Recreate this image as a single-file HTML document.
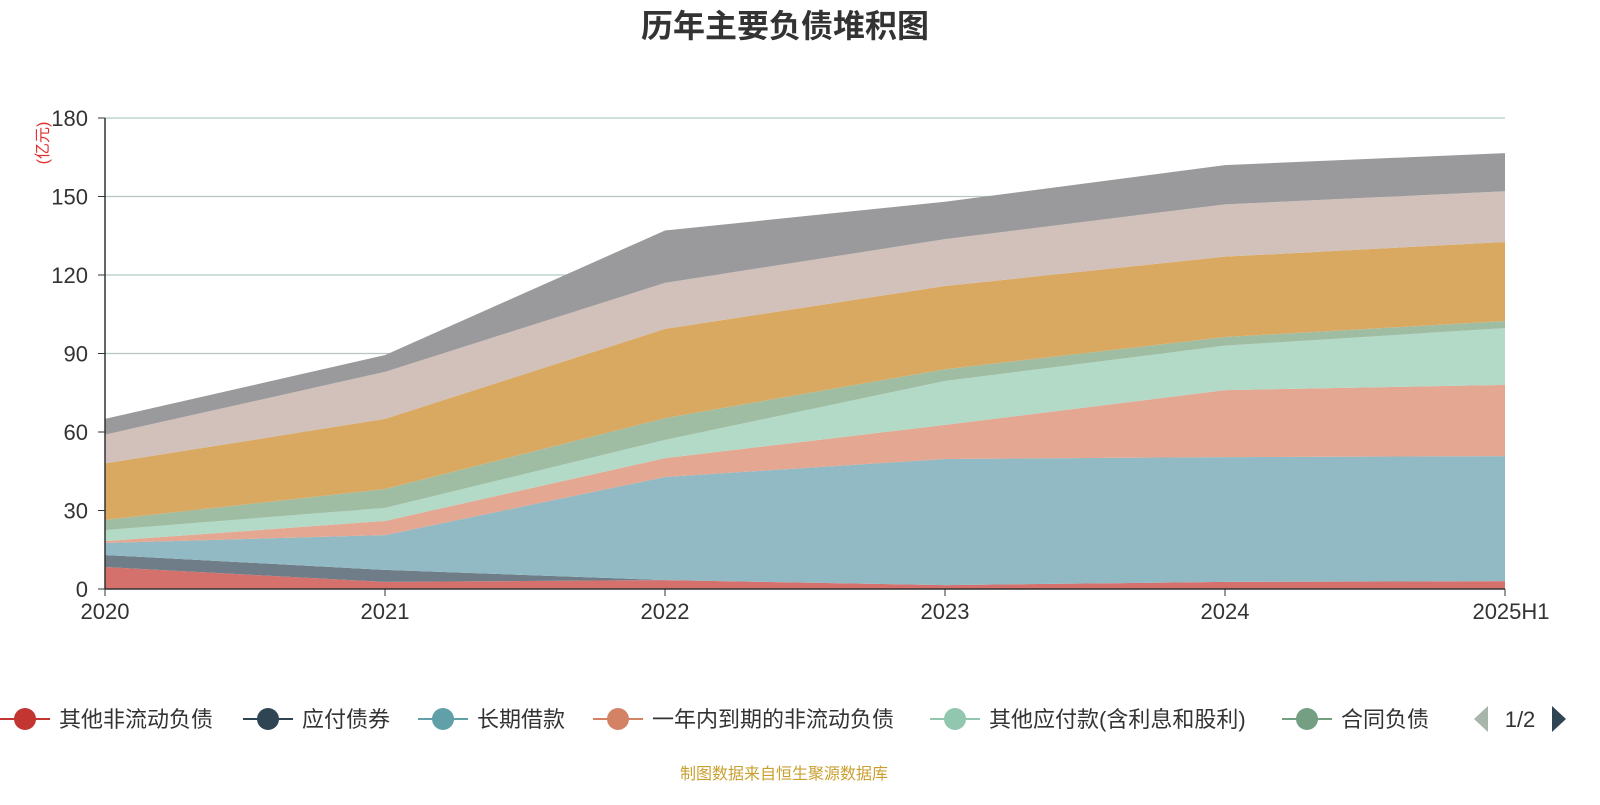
<!DOCTYPE html>
<html><head><meta charset="utf-8">
<style>
body{margin:0;width:1600px;height:800px;background:#fff;overflow:hidden;font-family:"Liberation Sans","Noto Sans CJK SC",sans-serif;}
</style></head>
<body>
<svg id="c" width="1600" height="800" xmlns="http://www.w3.org/2000/svg">
<text x="785" y="37" text-anchor="middle" font-size="32" font-weight="bold" fill="#333">历年主要负债堆积图</text>
<text transform="translate(48,143) rotate(-90)" text-anchor="middle" font-size="16" fill="#e03030">(亿元)</text>
<g id="grid"></g><g id="areas"></g><g id="axes"></g><g id="legend"></g>
<text x="784" y="779" text-anchor="middle" font-size="16" fill="#c9a030">制图数据来自恒生聚源数据库</text>
</svg>
<script>
const categories=["2020","2021","2022","2023","2024","2025H1"];
const yTicks=[0,30,60,90,120,150,180];
const seriesNames=["其他非流动负债","应付债券","长期借款","一年内到期的非流动负债","其他应付款(含利息和股利)","合同负债","应付账款","应付票据","短期借款"];
const sOther=[8.4,2.7,3.4,1.5,2.7,3];
const sBonds=[4.6,4.6,0,0,0,0];
const sLongLoan=[4.6,13.3,39.4,48.2,47.7,47.8];
const sCurrentDue=[0.7,5.4,7.2,13,25.6,27.2];
const sOtherPay=[4.2,5,7,16.8,17,21.7];
const sContract=[3.9,7.2,8.3,4.5,3.3,2.7];
const sPayable=[21.6,26.8,34.1,31.8,30.7,30.2];
const sNotes=[11,18,17.6,17.9,20,19.4];
const sShortLoan=[6,6.4,20,14.3,15,14.6];
const series=[sOther,sBonds,sLongLoan,sCurrentDue,sOtherPay,sContract,sPayable,sNotes,sShortLoan];
const fills=["#d4716c","#6f7d88","#91bac4","#e3a792","#b3d9c7","#9fbda3","#d9a961","#d2c0ba","#9a9a9c"];
const legendColors=["#c23531","#2f4554","#61a0a8","#d48265","#91c7ae","#749f83"];
const NS="http://www.w3.org/2000/svg";
const x=i=>105+i*(1400/(categories.length-1));
const y=v=>589-v*(471/180);
function mk(tag,attrs,parent){const e=document.createElementNS(NS,tag);for(const k in attrs)e.setAttribute(k,attrs[k]);parent.appendChild(e);return e;}
const grid=document.getElementById('grid'),areas=document.getElementById('areas'),axes=document.getElementById('axes'),legend=document.getElementById('legend');
yTicks.forEach(t=>{
  if(t>0){const l=mk('line',{x1:105,x2:1505,y1:y(t),y2:y(t),stroke:'#b5c9c2','stroke-width':1.2},grid);
  
  }
  const tx=mk('text',{x:88,y:y(t)+8,'text-anchor':'end','font-size':22,fill:'#333'},axes);tx.textContent=t;
  
  
  mk('line',{x1:98,x2:105,y1:y(t),y2:y(t),stroke:'#333'},axes);
});
let base=categories.map(()=>0);
series.forEach((s,si)=>{
  const top=base.map((b,i)=>b+s[i]);
  let d='M'+top.map((v,i)=>x(i)+','+y(v)).join('L');
  for(let i=categories.length-1;i>=0;i--)d+='L'+x(i)+','+y(base[i]);
  const p=mk('path',{d:d+'Z',fill:fills[si]},areas);
  
  
  base=top;
});
mk('line',{x1:105,x2:105,y1:118,y2:589,stroke:'#333','stroke-width':1.5},axes);
mk('line',{x1:105,x2:1505,y1:589,y2:589,stroke:'#333','stroke-width':1.5},axes);
categories.forEach((c,i)=>{
  mk('line',{x1:x(i),x2:x(i),y1:589,y2:596,stroke:'#333'},axes);
  const t=mk('text',{x:x(i),y:619,'text-anchor':i==categories.length-1?'middle':'middle','font-size':22,fill:'#333'},axes);t.textContent=c;
  if(i==categories.length-1)t.setAttribute('x',x(i)+6);
  
  
});
const lx=[0,243,418,593,930,1282];
seriesNames.slice(0,6).forEach((n,i)=>{
  const g=mk('g',{},legend);
  
  
  mk('line',{x1:lx[i],x2:lx[i]+50,y1:719,y2:719,stroke:legendColors[i],'stroke-width':2},g);
  mk('circle',{cx:lx[i]+25,cy:719,r:11,fill:legendColors[i]},g);
  const t=mk('text',{x:lx[i]+59,y:727,'font-size':22,fill:'#333'},g);t.textContent=n;
});
const pl=mk('polygon',{points:'1474,719 1488,706 1488,732',fill:'#a7b5aa'},legend);


const pt=mk('text',{x:1520,y:727,'text-anchor':'middle','font-size':22,fill:'#333'},legend);pt.textContent='1/2';


const pr=mk('polygon',{points:'1566,719 1552,706 1552,732',fill:'#2f4554'},legend);


</script>
</body></html>
